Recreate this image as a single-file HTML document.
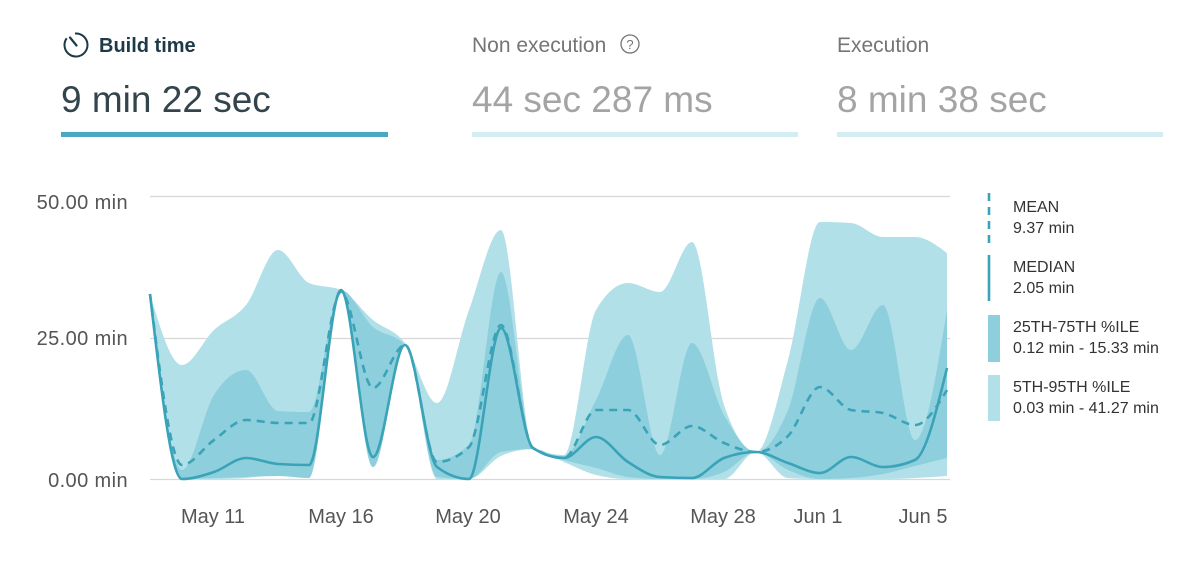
<!DOCTYPE html>
<html><head><meta charset="utf-8"><style>
html,body{margin:0;padding:0;background:#fff;}
svg{display:block;font-family:"Liberation Sans",sans-serif;}
</style></head><body>
<svg id="s" width="1200" height="577" viewBox="0 0 1200 577" xmlns="http://www.w3.org/2000/svg">
<rect width="1200" height="577" fill="#fff"/>
<!-- header -->
<circle cx="76" cy="45" r="11.5" fill="none" stroke="#1d3a47" stroke-width="2" stroke-dasharray="62 10" transform="rotate(-95 76 45)"/>
<line x1="76.5" y1="45.5" x2="70" y2="37.5" stroke="#1d3a47" stroke-width="2.2" stroke-linecap="round"/>
<text x="99" y="52" font-size="20" font-weight="bold" fill="#1d3a47">Build time</text>
<text x="61" y="112" font-size="37" fill="#34444c">9 min 22 sec</text>
<rect x="61" y="132" width="327" height="5" fill="#4aa9c1"/>

<text x="472" y="52" font-size="21" fill="#757575">Non execution</text>
<circle cx="630" cy="44" r="9" fill="none" stroke="#757575" stroke-width="1.3"/>
<text x="630" y="49" font-size="13" fill="#757575" text-anchor="middle">?</text>
<text x="472" y="112" font-size="37" fill="#a4a4a4">44 sec 287 ms</text>
<rect x="472" y="132" width="326" height="5" fill="#d4edf2"/>

<text x="837" y="52" font-size="21" fill="#757575">Execution</text>
<text x="837" y="112" font-size="37" fill="#a4a4a4">8 min 38 sec</text>
<rect x="837" y="132" width="326" height="5" fill="#d4edf2"/>

<!-- grid -->
<line x1="150" y1="196.5" x2="950" y2="196.5" stroke="#d8d8d8" stroke-width="1.2"/>
<line x1="150" y1="338.5" x2="950" y2="338.5" stroke="#d8d8d8" stroke-width="1.2"/>
<line x1="150" y1="479.5" x2="950" y2="479.5" stroke="#d8d8d8" stroke-width="1.2"/>

<g font-size="20" fill="#555" text-anchor="end" letter-spacing="0.4">
<text x="128" y="209">50.00 min</text>
<text x="128" y="345">25.00 min</text>
<text x="128" y="487">0.00 min</text>
</g>
<g font-size="20" fill="#555" text-anchor="middle">
<text x="213" y="523">May 11</text>
<text x="341" y="523">May 16</text>
<text x="468" y="523">May 20</text>
<text x="596" y="523">May 24</text>
<text x="723" y="523">May 28</text>
<text x="818" y="523">Jun 1</text>
<text x="923" y="523">Jun 5</text>
</g>

<!-- series (fallback polylines; replaced by smooth curves via script) -->
<polygon id="light" fill="#b1e0e8" points="150,294 182,365 214,330 246,305 278,250 309,283 341,290 373,320 405,343 437,403 469,310 501,230 533,447 564,455 596,310 628,283 660,292 692,242 724,405 756,452 788,360 820,222 851,223 883,237 915,237 947,253 947,476 915,478 883,479 851,479 820,479 788,478 756,452 724,479 692,479 660,479 628,479 596,475 564,462 533,449 501,456 469,479 437,479 405,345 373,467 341,290 309,478 278,474 246,478 214,479 182,479 150,294"/>
<polygon id="dark" fill="#8dcfdc" points="150,294 182,470 214,395 246,370 278,411 309,412 341,290 373,327 405,345 437,460 469,445 501,272 533,447 564,456 596,400 628,335 660,455 692,343 724,415 756,452 788,410 820,298 851,350 883,305 915,440 947,310 947,458 915,466 883,474 851,478 820,479 788,470 756,452 724,472 692,479 660,479 628,477 596,468 564,460 533,449 501,452 469,479 437,477 405,345 373,467 341,290 309,478 278,476 246,477 214,478 182,479 150,294"/>
<polyline id="mean" fill="none" stroke="#3aa3b8" stroke-width="2.6" stroke-dasharray="8 6" points="150,294 182,465 214,440 246,420 278,423 309,423 341,292 373,388 405,345 437,462 469,447 501,325 533,448 564,458 596,410 628,410 660,445 692,426 724,443 756,452 788,436 820,387 851,410 883,413 915,425 947,390"/>
<polyline id="median" fill="none" stroke="#3aa3b8" stroke-width="2.6" points="150,294 182,479 214,472 246,458 278,464 309,465 341,290 373,457 405,345 437,467 469,479 501,328 533,448 564,458 596,437 628,462 660,477 692,478 724,458 756,452 788,463 820,473 851,457 883,467 915,460 947,368"/>

<!-- legend -->
<line x1="989" y1="193" x2="989" y2="243" stroke="#3aa3b8" stroke-width="2.6" stroke-dasharray="8 6"/>
<line x1="989" y1="255" x2="989" y2="301" stroke="#3aa3b8" stroke-width="2.6"/>
<rect x="988" y="315" width="12" height="47" fill="#8dcfdc"/>
<rect x="988" y="375" width="12" height="46" fill="#b1e0e8"/>
<g font-size="16" fill="#333">
<text x="1013" y="212">MEAN</text>
<text x="1013" y="233">9.37 min</text>
<text x="1013" y="272">MEDIAN</text>
<text x="1013" y="293">2.05 min</text>
<text x="1013" y="332">25TH-75TH %ILE</text>
<text x="1013" y="353">0.12 min - 15.33 min</text>
<text x="1013" y="392">5TH-95TH %ILE</text>
<text x="1013" y="413">0.03 min - 41.27 min</text>
</g>
</svg>
<script>
(function(){
var NS="http://www.w3.org/2000/svg";
function parse(el){return el.getAttribute("points").trim().split(/\s+/).map(function(p){var a=p.split(",");return [parseFloat(a[0]),parseFloat(a[1])];});}
function sgn(v){return v>0?1:v<0?-1:0;}
function curve(pts){
  var n=pts.length,t=new Array(n),i;
  for(i=1;i<n-1;i++){
    var h0=pts[i][0]-pts[i-1][0],h1=pts[i+1][0]-pts[i][0];
    var s0=(pts[i][1]-pts[i-1][1])/h0,s1=(pts[i+1][1]-pts[i][1])/h1;
    var p=(s0*h1+s1*h0)/(h0+h1);
    t[i]=(sgn(s0)+sgn(s1))*Math.min(Math.abs(s0),Math.abs(s1),0.5*Math.abs(p))||0;
  }
  t[0]=(3*(pts[1][1]-pts[0][1])/(pts[1][0]-pts[0][0])-t[1])/2;
  t[n-1]=(3*(pts[n-1][1]-pts[n-2][1])/(pts[n-1][0]-pts[n-2][0])-t[n-2])/2;
  var d="";
  for(i=0;i<n-1;i++){
    var x0=pts[i][0],y0=pts[i][1],x1=pts[i+1][0],y1=pts[i+1][1],dx=(x1-x0)/3;
    d+=" C"+(x0+dx).toFixed(2)+","+(y0+dx*t[i]).toFixed(2)+" "+(x1-dx).toFixed(2)+","+(y1-dx*t[i+1]).toFixed(2)+" "+x1+","+y1;
  }
  return d;
}
function area(id){
  var el=document.getElementById(id),pts=parse(el),h=pts.length/2;
  var top=pts.slice(0,h),bot=pts.slice(h);
  var d="M"+top[0][0]+","+top[0][1]+curve(top)+" L"+bot[0][0]+","+bot[0][1]+curve(bot)+" Z";
  var p=document.createElementNS(NS,"path");
  p.setAttribute("d",d);p.setAttribute("fill",el.getAttribute("fill"));
  el.parentNode.replaceChild(p,el);
}
function line(id){
  var el=document.getElementById(id),pts=parse(el);
  var d="M"+pts[0][0]+","+pts[0][1]+curve(pts);
  var p=document.createElementNS(NS,"path");
  p.setAttribute("d",d);p.setAttribute("fill","none");
  ["stroke","stroke-width","stroke-dasharray"].forEach(function(a){var v=el.getAttribute(a);if(v)p.setAttribute(a,v);});
  p.setAttribute("stroke-linejoin","round");
  el.parentNode.replaceChild(p,el);
}
try{area("light");area("dark");line("mean");line("median");}catch(e){}
})();
</script>
</body></html>
